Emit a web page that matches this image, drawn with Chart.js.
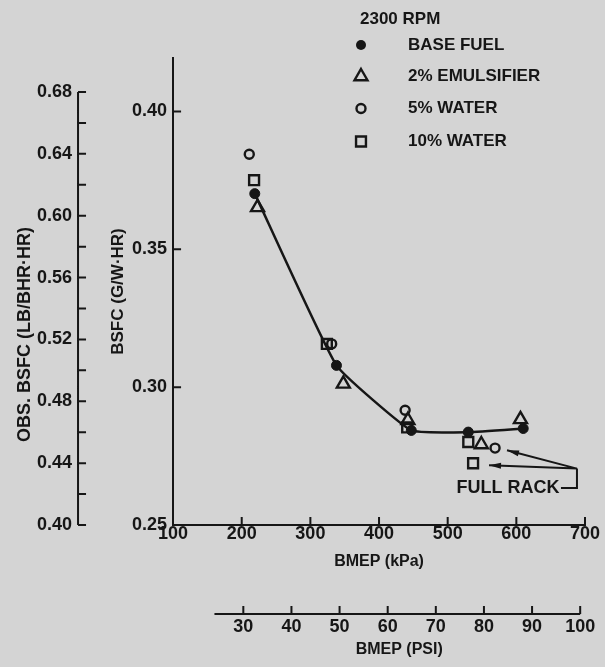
<!DOCTYPE html>
<html>
<head>
<meta charset="utf-8">
<title>BSFC vs BMEP - 2300 RPM</title>
<script src="https://cdn.jsdelivr.net/npm/chart.js@4/dist/chart.umd.min.js"></script>
<style>
  html, body { margin: 0; padding: 0; background: #d4d4d4; }
  canvas { display: block; }
</style>
</head>
<body>
<canvas id="bsfcChart" width="605" height="667"></canvas>
<script>
// SỐ LIỆU (BMEP kPa / BSFC g/W·hr)
const baseFuelKpa = [219, 338, 447, 530, 610];
const baseFuelBsfc = [0.3702, 0.3079, 0.2843, 0.2837, 0.285];

const emulsifierKpa = [223, 348, 442, 549, 606];
const emulsifierBsfc = [0.3652, 0.3012, 0.288, 0.2792, 0.2883];

const water5Kpa = [211, 331, 438, 569];
const water5Bsfc = [0.3845, 0.3157, 0.2916, 0.2779];

const water10Kpa = [218, 324, 441, 530, 537];
const water10Bsfc = [0.3751, 0.3157, 0.2854, 0.2801, 0.2724];

const seriesLabels = ["BASE FUEL", "2% EMULSIFIER", "5% WATER", "10% WATER"];

// TRỤC
const kpaTicks = [100, 200, 300, 400, 500, 600, 700];
const psiTicks = [30, 40, 50, 60, 70, 80, 90, 100];
const bsfcTicks = [0.25, 0.3, 0.35, 0.4];
const obsBsfcTicks = [0.4, 0.42, 0.44, 0.46, 0.48, 0.5, 0.52, 0.54, 0.56, 0.58, 0.6, 0.62, 0.64, 0.66, 0.68];

const ink = "#161616";
const paper = "#d4d4d4";
const fontFamily = "'Liberation Sans', Arial, Helvetica, sans-serif";

Chart.defaults.font.family = fontFamily;
Chart.defaults.color = ink;

function toPoints(xs, ys) {
  return xs.map((x, i) => ({ x: x, y: ys[i] }));
}

// NỀN GIẤY
const paperBackground = {
  id: "paperBackground",
  beforeDraw(chart) {
    const ctx = chart.ctx;
    ctx.save();
    ctx.fillStyle = paper;
    ctx.fillRect(0, 0, chart.width, chart.height);
    ctx.restore();
  },
};

// VẠCH CHIA HƯỚNG VÀO TRONG + TRỤC PHỤ
const axisMarks = {
  id: "axisMarks",
  afterDraw(chart) {
    const ctx = chart.ctx;
    const { x, y, x2, y2 } = chart.scales;
    ctx.save();
    ctx.strokeStyle = ink;
    ctx.lineWidth = 2;
    ctx.beginPath();

    kpaTicks.forEach((v) => {
      if (v === x.min) return;
      const px = x.getPixelForValue(v);
      ctx.moveTo(px, x.top);
      ctx.lineTo(px, x.top - 8);
    });

    bsfcTicks.forEach((v) => {
      if (v === y.min) return;
      const py = y.getPixelForValue(v);
      ctx.moveTo(y.right, py);
      ctx.lineTo(y.right + 8, py);
    });

    // OBS. BSFC (LB/BHR·HR)
    ctx.moveTo(y2.right, y2.getPixelForValue(0.68));
    ctx.lineTo(y2.right, y2.getPixelForValue(0.4));
    obsBsfcTicks.forEach((v) => {
      const py = y2.getPixelForValue(v);
      ctx.moveTo(y2.right, py);
      ctx.lineTo(y2.right + 8, py);
    });

    // BMEP (PSI)
    ctx.moveTo(x2.getPixelForValue(24), x2.top);
    ctx.lineTo(x2.getPixelForValue(100), x2.top);
    psiTicks.forEach((v) => {
      const px = x2.getPixelForValue(v);
      ctx.moveTo(px, x2.top);
      ctx.lineTo(px, x2.top - 8);
    });
    ctx.stroke();

    // tiêu đề trục phụ
    ctx.fillStyle = ink;
    ctx.textAlign = "center";
    ctx.textBaseline = "middle";
    ctx.font = "bold 16px " + fontFamily;
    ctx.fillText("BMEP (PSI)", x2.getPixelForValue(62.4), x2.bottom + 10);

    ctx.font = "bold 18px " + fontFamily;
    ctx.translate(y2.left - 6, (chart.chartArea.top + chart.chartArea.bottom) / 2 + 43);
    ctx.rotate(-Math.PI / 2);
    ctx.fillText("OBS. BSFC (LB/BHR·HR)", 0, 0);
    ctx.restore();
  },
};

// CHÚ THÍCH
const legendBlock = {
  id: "legendBlock",
  afterDraw(chart) {
    const ctx = chart.ctx;
    const markerX = 361;
    const textX = 408;
    const rows = [45, 76.5, 108.5, 141.5];
    ctx.save();
    ctx.fillStyle = ink;
    ctx.textAlign = "left";
    ctx.textBaseline = "middle";
    ctx.font = "bold 17px " + fontFamily;
    ctx.fillText("2300 RPM", 360, 19);

    chart.data.datasets.forEach((ds, i) => {
      ctx.lineWidth = ds.pointBorderWidth;
      ctx.strokeStyle = ink;
      ctx.fillStyle = ds.pointBackgroundColor;
      Chart.helpers.drawPoint(
        ctx,
        {
          pointStyle: ds.pointStyle,
          radius: ds.pointRadius,
          rotation: 0,
          borderWidth: i === 0 ? 0 : ds.pointBorderWidth,
        },
        markerX,
        rows[i]
      );
      ctx.fillStyle = ink;
      ctx.fillText(ds.label, textX, rows[i]);
    });
    ctx.restore();
  },
};

// GHI CHÚ "FULL RACK"
const fullRackNote = {
  id: "fullRackNote",
  afterDatasetsDraw(chart) {
    const ctx = chart.ctx;
    const { x, y } = chart.scales;
    const p = (kpa, bsfc) => [x.getPixelForValue(kpa), y.getPixelForValue(bsfc)];

    const textPos = p(587.8, 0.2634);
    const textEnd = p(665, 0.2634);
    const cornerLow = p(688.3, 0.2634);
    const cornerTop = p(688.3, 0.27045);
    const tips = [p(586.4, 0.2771), p(560.2, 0.2717)];

    ctx.save();
    ctx.strokeStyle = ink;
    ctx.fillStyle = ink;
    ctx.lineWidth = 2;
    ctx.font = "bold 18px " + fontFamily;
    ctx.textAlign = "center";
    ctx.textBaseline = "middle";
    ctx.fillText("FULL RACK", textPos[0], textPos[1]);

    ctx.beginPath();
    ctx.moveTo(textEnd[0], textEnd[1]);
    ctx.lineTo(cornerLow[0], cornerLow[1]);
    ctx.lineTo(cornerTop[0], cornerTop[1]);
    tips.forEach((t) => {
      ctx.moveTo(cornerTop[0], cornerTop[1]);
      ctx.lineTo(t[0], t[1]);
    });
    ctx.stroke();

    tips.forEach((t) => {
      const ang = Math.atan2(t[1] - cornerTop[1], t[0] - cornerTop[0]);
      const len = 12;
      const half = 3;
      const bx = t[0] - Math.cos(ang) * len;
      const by = t[1] - Math.sin(ang) * len;
      ctx.beginPath();
      ctx.moveTo(t[0], t[1]);
      ctx.lineTo(bx - Math.sin(ang) * half, by + Math.cos(ang) * half);
      ctx.lineTo(bx + Math.sin(ang) * half, by - Math.cos(ang) * half);
      ctx.closePath();
      ctx.fill();
    });
    ctx.restore();
  },
};

const tickFont = { size: 18, weight: "bold" };

const bsfcChart = document.querySelector("#bsfcChart");
if (bsfcChart) {
  new Chart(bsfcChart.getContext("2d"), {
    type: "scatter",
    data: {
      datasets: [
        {
          label: seriesLabels[0],
          data: toPoints(baseFuelKpa, baseFuelBsfc),
          showLine: true,
          tension: 0.12,
          borderColor: ink,
          borderWidth: 2.5,
          pointStyle: "circle",
          pointRadius: 5,
          pointBackgroundColor: ink,
          pointBorderColor: ink,
          pointBorderWidth: 1,
        },
        {
          label: seriesLabels[1],
          data: toPoints(emulsifierKpa, emulsifierBsfc),
          pointStyle: "triangle",
          pointRadius: 7.5,
          pointBackgroundColor: "rgba(0,0,0,0)",
          pointBorderColor: ink,
          pointBorderWidth: 2.4,
        },
        {
          label: seriesLabels[2],
          data: toPoints(water5Kpa, water5Bsfc),
          pointStyle: "circle",
          pointRadius: 4.5,
          pointBackgroundColor: "rgba(0,0,0,0)",
          pointBorderColor: ink,
          pointBorderWidth: 2.4,
        },
        {
          label: seriesLabels[3],
          data: toPoints(water10Kpa, water10Bsfc),
          pointStyle: "rect",
          pointRadius: 7,
          pointBackgroundColor: "rgba(0,0,0,0)",
          pointBorderColor: ink,
          pointBorderWidth: 2.4,
        },
      ],
    },
    options: {
      responsive: false,
      animation: false,
      events: [],
      layout: {
        padding: { top: 58, right: 20, bottom: 27.4, left: 31 },
      },
      plugins: {
        legend: { display: false },
        tooltip: { enabled: false },
      },
      scales: {
        x: {
          type: "linear",
          position: "bottom",
          weight: 0,
          min: 100,
          max: 700,
          afterBuildTicks: (scale) => {
            scale.ticks = kpaTicks.map((v) => ({ value: v }));
          },
          ticks: { color: ink, font: tickFont, padding: -2, autoSkip: false, maxRotation: 0 },
          grid: { display: false, drawTicks: false },
          border: { display: true, color: ink, width: 2 },
          title: {
            display: true,
            text: "BMEP (kPa)",
            color: ink,
            font: { size: 16, weight: "bold" },
            padding: { top: 9.8, bottom: 42.4 },
          },
        },
        x2: {
          type: "linear",
          position: "bottom",
          weight: 1,
          min: 15.4,
          max: 101,
          afterBuildTicks: (scale) => {
            scale.ticks = psiTicks.map((v) => ({ value: v }));
          },
          ticks: { color: ink, font: tickFont, padding: 2, autoSkip: false, maxRotation: 0 },
          grid: { display: false, drawTicks: false },
          border: { display: false },
        },
        y: {
          type: "linear",
          position: "left",
          weight: 0,
          min: 0.25,
          max: 0.4194,
          afterBuildTicks: (scale) => {
            scale.ticks = bsfcTicks.map((v) => ({ value: v }));
          },
          ticks: {
            color: ink,
            font: tickFont,
            padding: 6,
            autoSkip: false,
            callback: (value) => value.toFixed(2),
          },
          grid: { display: false, drawTicks: false },
          border: { display: true, color: ink, width: 2 },
          title: {
            display: true,
            text: "BSFC (G/W·HR)",
            color: ink,
            font: { size: 17, weight: "bold" },
            padding: { top: 29.8, bottom: -2.2 },
          },
        },
        y2: {
          type: "linear",
          position: "left",
          weight: 1,
          min: 0.4,
          max: 0.702,
          afterBuildTicks: (scale) => {
            scale.ticks = obsBsfcTicks.map((v) => ({ value: v }));
          },
          ticks: {
            color: ink,
            font: tickFont,
            padding: 6,
            autoSkip: false,
            callback: (value) => (Math.round(value * 100) % 4 === 0 ? value.toFixed(2) : ""),
          },
          grid: { display: false, drawTicks: false },
          border: { display: false },
        },
      },
    },
    plugins: [paperBackground, axisMarks, legendBlock, fullRackNote],
  });
}
</script>
</body>
</html>
